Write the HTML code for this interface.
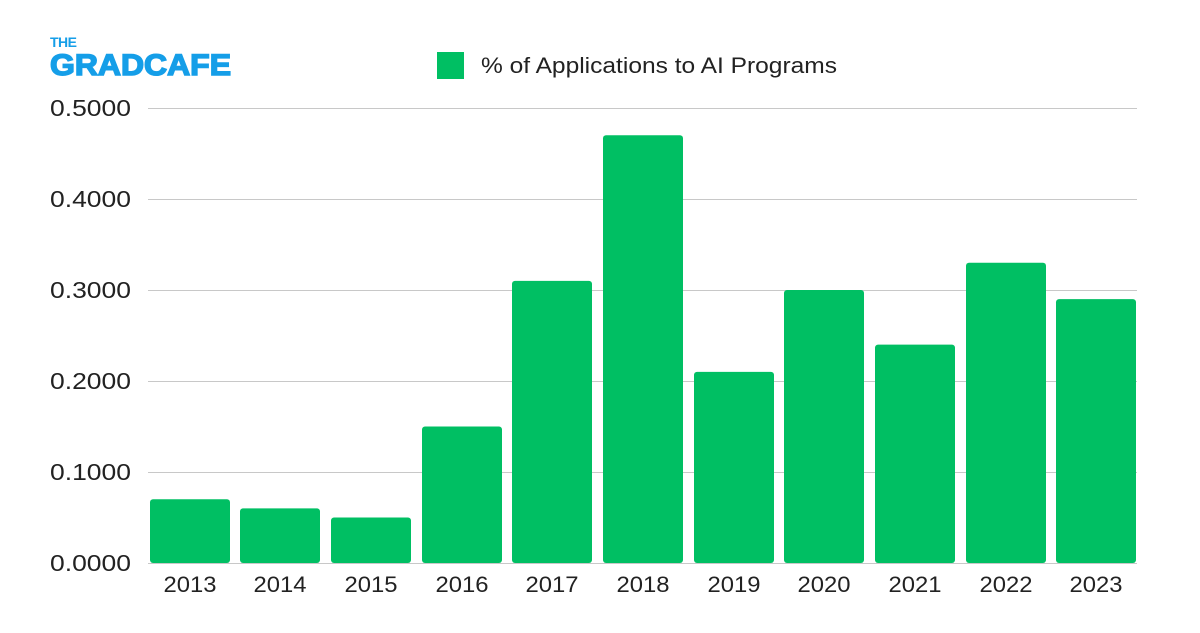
<!DOCTYPE html>
<html><head><meta charset="utf-8"><style>
body{margin:0;width:1200px;height:628px;background:#fff;overflow:hidden;font-family:"Liberation Sans",sans-serif}
</style></head><body>
<svg width="1200" height="628" xmlns="http://www.w3.org/2000/svg" font-family="Liberation Sans, sans-serif">
<text x="50" y="47" font-size="14" font-weight="bold" fill="#159ee8" letter-spacing="-0.5">THE</text>
<text x="50" y="75" font-size="30" font-weight="bold" fill="#159ee8" stroke="#159ee8" stroke-width="1.5" textLength="181" lengthAdjust="spacingAndGlyphs">GRADCAFE</text>
<rect x="437" y="52" width="27" height="27" fill="#00bf63"/>
<text x="481" y="73" font-size="22" fill="#222" textLength="356" lengthAdjust="spacingAndGlyphs">% of Applications to AI Programs</text>
<g stroke="#c8c8c8" stroke-width="1">
<line x1="148" x2="1137" y1="108.5" y2="108.5"/><line x1="148" x2="1137" y1="199.5" y2="199.5"/>
<line x1="148" x2="1137" y1="290.5" y2="290.5"/><line x1="148" x2="1137" y1="381.5" y2="381.5"/>
<line x1="148" x2="1137" y1="472.5" y2="472.5"/><line x1="148" x2="1137" y1="563.5" y2="563.5"/>
</g>
<g font-size="23" fill="#222">
<text x="50" y="116" textLength="81" lengthAdjust="spacingAndGlyphs">0.5000</text>
<text x="50" y="207" textLength="81" lengthAdjust="spacingAndGlyphs">0.4000</text>
<text x="50" y="298" textLength="81" lengthAdjust="spacingAndGlyphs">0.3000</text>
<text x="50" y="389" textLength="81" lengthAdjust="spacingAndGlyphs">0.2000</text>
<text x="50" y="480" textLength="81" lengthAdjust="spacingAndGlyphs">0.1000</text>
<text x="50" y="571" textLength="81" lengthAdjust="spacingAndGlyphs">0.0000</text>
</g>
<g fill="#00bf63">
<rect x="150" y="499.3" width="80" height="63.7" rx="3"/>
<rect x="240" y="508.4" width="80" height="54.6" rx="3"/>
<rect x="331" y="517.5" width="80" height="45.5" rx="3"/>
<rect x="422" y="426.5" width="80" height="136.5" rx="3"/>
<rect x="512" y="280.9" width="80" height="282.1" rx="3"/>
<rect x="603" y="135.3" width="80" height="427.7" rx="3"/>
<rect x="694" y="371.9" width="80" height="191.1" rx="3"/>
<rect x="784" y="290" width="80" height="273" rx="3"/>
<rect x="875" y="344.6" width="80" height="218.4" rx="3"/>
<rect x="966" y="262.7" width="80" height="300.3" rx="3"/>
<rect x="1056" y="299.1" width="80" height="263.9" rx="3"/>
</g>
<g font-size="22" fill="#222" text-anchor="middle">
<text x="190" y="592" textLength="53" lengthAdjust="spacingAndGlyphs">2013</text>
<text x="280" y="592" textLength="53" lengthAdjust="spacingAndGlyphs">2014</text>
<text x="371" y="592" textLength="53" lengthAdjust="spacingAndGlyphs">2015</text>
<text x="462" y="592" textLength="53" lengthAdjust="spacingAndGlyphs">2016</text>
<text x="552" y="592" textLength="53" lengthAdjust="spacingAndGlyphs">2017</text>
<text x="643" y="592" textLength="53" lengthAdjust="spacingAndGlyphs">2018</text>
<text x="734" y="592" textLength="53" lengthAdjust="spacingAndGlyphs">2019</text>
<text x="824" y="592" textLength="53" lengthAdjust="spacingAndGlyphs">2020</text>
<text x="915" y="592" textLength="53" lengthAdjust="spacingAndGlyphs">2021</text>
<text x="1006" y="592" textLength="53" lengthAdjust="spacingAndGlyphs">2022</text>
<text x="1096" y="592" textLength="53" lengthAdjust="spacingAndGlyphs">2023</text>
</g>
</svg>
</body></html>
